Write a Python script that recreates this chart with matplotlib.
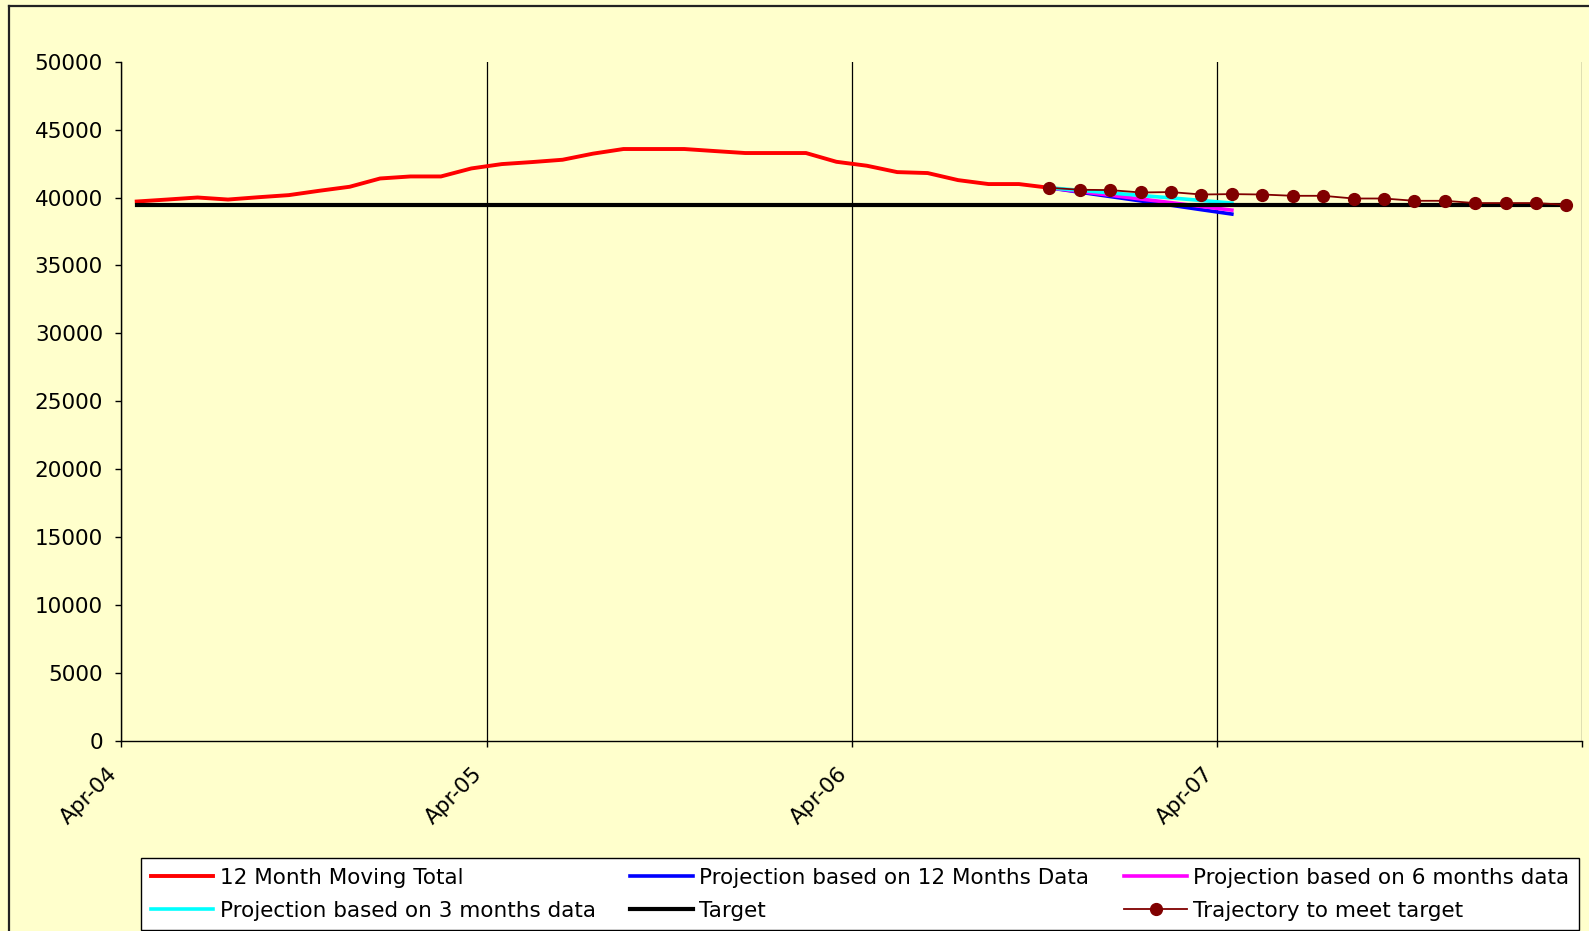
import numpy as np
import matplotlib.pyplot as plt
from matplotlib.lines import Line2D

# 12 month moving total, one value per month starting Apr-04
moving_total = [39705, 39850, 40000, 39850, 40020, 40175, 40495, 40790,
                41400, 41550, 41550, 42140, 42460, 42610, 42780, 43230,
                43570, 43570, 43570, 43420, 43275, 43275, 43275, 42630,
                42340, 41870, 41800, 41280, 40990, 40990, 40715]

# projections and trajectory start at the last actual month (Oct-06)
proj_start = 30
proj_12m = [40715, 40390, 40070, 39750, 39430, 39100, 38780]
proj_6m = [40715, 40440, 40170, 39890, 39620, 39340, 39070]
proj_3m = [40715, 40530, 40340, 40150, 39970, 39780, 39590]
trajectory = [40715, 40570, 40545, 40370, 40400, 40220, 40250, 40220, 40125,
              40125, 39926, 39926, 39757, 39757, 39590, 39590, 39590, 39460]
target_value = 39440
n_months = 48

tick_pos = [0, 12, 24, 36, 48]
tick_labels = ["Apr-04", "Apr-05", "Apr-06", "Apr-07", ""]

series_names = ["12 Month Moving Total", "Projection based on 12 Months Data",
                "Projection based on 6 months data",
                "Projection based on 3 months data", "Target",
                "Trajectory to meet target"]

W, H = 1589, 931
bg = "#FFFFCC"
fs = 15.5
fig = plt.figure(figsize=(W / 100, H / 100), dpi=100, facecolor=bg)
ax = fig.add_axes([121.5 / W, 1 - 740.7 / H, (1581.7 - 121.5) / W, (740.7 - 61.7) / H])
ax.set_facecolor(bg)

# outer chart border (top and left only are inside the image)
fig.add_artist(Line2D([8.5 / W, 1.0], [1 - 5.5 / H, 1 - 5.5 / H], color="#222222", lw=1.6))
fig.add_artist(Line2D([8.5 / W, 8.5 / W], [0, 1 - 5.5 / H], color="#222222", lw=1.6))

x_act = np.arange(len(moving_total)) + 0.5
x_proj = np.arange(len(proj_12m)) + proj_start + 0.5
x_traj = np.arange(len(trajectory)) + proj_start + 0.5
x_all = np.arange(n_months) + 0.5

l_red, = ax.plot(x_act, moving_total, color="#FF0000", lw=2.8)
l_blue, = ax.plot(x_proj, proj_12m, color="#0000FF", lw=2.6)
l_mag, = ax.plot(x_proj, proj_6m, color="#FF00FF", lw=2.6)
l_cyan, = ax.plot(x_proj, proj_3m, color="#00FFFF", lw=2.6)
l_tgt, = ax.plot(x_all, [target_value] * n_months, color="black", lw=3)
l_traj, = ax.plot(x_traj, trajectory, color="#800000", lw=1.3,
                  marker="o", markersize=8.5, markeredgecolor="#800000")

ax.set_xlim(0, n_months)
ax.set_ylim(0, 50000)
ax.set_yticks(np.arange(0, 50001, 5000))
ax.set_xticks(tick_pos)
ax.set_xticklabels(tick_labels, rotation=45, ha="right", rotation_mode="default")
ax.xaxis.grid(True, color="black", lw=0.9)
ax.set_axisbelow(True)

for s in ["top", "right"]:
    ax.spines[s].set_visible(False)
for s in ["left", "bottom"]:
    ax.spines[s].set_color("black")
    ax.spines[s].set_linewidth(1.0)

ax.tick_params(axis="both", direction="out", length=4.3, width=1, color="black",
               labelsize=fs, labelcolor="black")
ax.tick_params(axis="y", pad=9)
ax.tick_params(axis="x", pad=12)

handles = [l_red, l_cyan, l_blue, l_tgt, l_mag, l_traj]
labels = [series_names[0], series_names[3], series_names[1], series_names[4],
          series_names[2], series_names[5]]
leg = fig.legend(handles, labels, loc="upper left",
                 bbox_to_anchor=(141 / W, 1 - 926 / H, (1579 - 141) / W, (926 - 858) / H),
                 mode="expand", ncol=3, frameon=True, fancybox=False,
                 edgecolor="black", facecolor="white", framealpha=1,
                 fontsize=fs, handlelength=2.9, handletextpad=0.3,
                 borderaxespad=0, labelspacing=0.6, borderpad=0.45)
leg.get_frame().set_linewidth(1.0)

fig.savefig("out.png", dpi=100, facecolor=bg)
